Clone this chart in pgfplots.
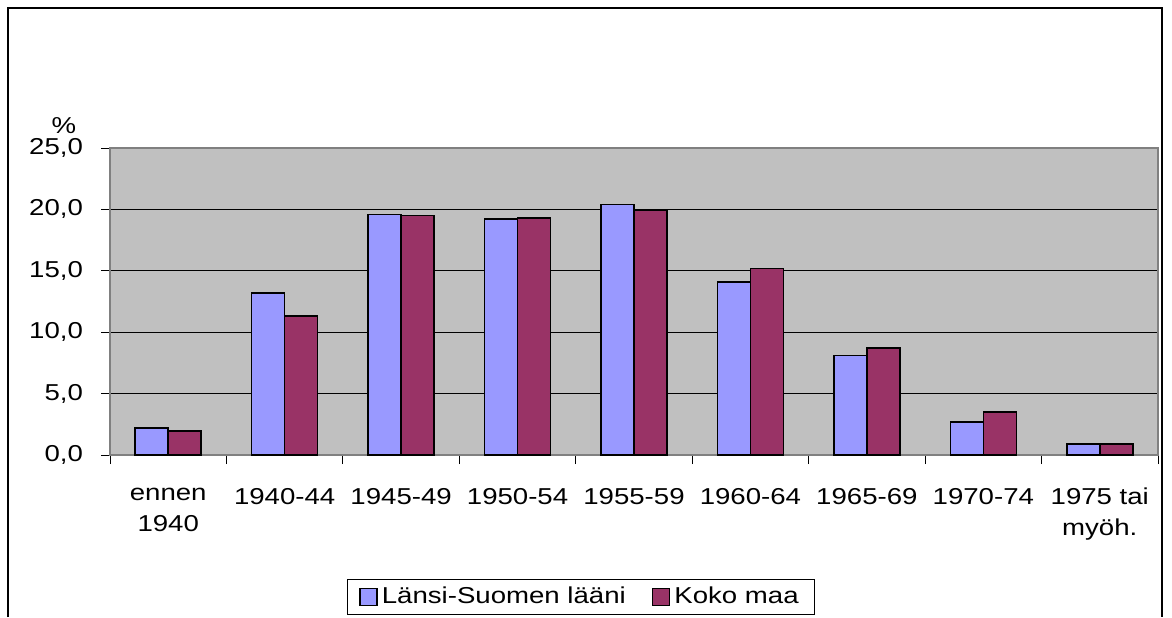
\documentclass[border=0pt]{standalone}
\usepackage{pgfplots}
\pgfplotsset{compat=1.18}
\usepackage{fontspec}
\setmainfont{Liberation Sans}[FakeStretch=1.2]
\definecolor{barblue}{HTML}{9999FF}
\definecolor{barred}{HTML}{993366}
\definecolor{plotgray}{HTML}{C0C0C0}
\begin{document}
\begin{tikzpicture}[x=0.5pt,y=0.5pt]
\useasboundingbox (0,0) rectangle (1172,617);
\draw[line width=0.8pt] (8,0) -- (8,609) -- (1162,609) -- (1162,0);
\node[font=\fontsize{11.5}{13}\selectfont] at (64,491) {\%};
\begin{axis}[
  at={(55pt,81pt)}, anchor=south west,
  scale only axis, width=524pt, height=153.5pt,
  ybar=0pt, bar width=16.5pt,
  xmin=-0.5, xmax=8.5, ymin=0, ymax=25,
  axis background/.style={fill=plotgray},
  axis line style={draw=gray, line width=0.6pt},
  ytick={0,5,...,25},
  ymajorgrids, grid style={black, line width=0.5pt},
  xtick={0,...,8},
  xticklabels={{ennen\\1940},1940-44,1945-49,1950-54,1955-59,1960-64,1965-69,1970-74,{1975 tai\\myöh.}},
  minor xtick={-0.5,0.5,...,8.5},
  xtick pos=bottom, ytick pos=left,
  major x tick style={draw=none},
  minor x tick style={black, line width=0.5pt},
  y tick style={black, line width=0.5pt},
  tick align=outside,
  major tick length=4.5pt, minor tick length=4.5pt,
  xticklabel style={align=center, font=\fontsize{11.5}{15.5}\selectfont, yshift=-8.5pt},
  yticklabel style={font=\fontsize{11.5}{13}\selectfont, xshift=-5.5pt},
  /pgf/number format/assume math mode=true,
  yticklabel={\pgfmathprintnumber[fixed, fixed zerofill, precision=1, use comma]{\tick}},
  legend columns=2,
  legend style={at={(0.4494,-0.4625)}, anchor=center, draw=black, fill=white,
    font=\fontsize{11.5}{13}\selectfont, line width=0.5pt, inner xsep=6pt,
    /tikz/every even column/.append style={column sep=11pt}},
  legend image code/.code={\draw[#1, line width=0.8pt] (0pt,-4.2pt) rectangle (8.5pt,4.2pt);},
]
\addplot[fill=barblue, draw=black, line width=0.8pt] coordinates {(0,2.2) (1,13.2) (2,19.6) (3,19.2) (4,20.4) (5,14.1) (6,8.1) (7,2.7) (8,0.9)};
\addplot[fill=barred, draw=black, line width=0.8pt] coordinates {(0,1.95) (1,11.3) (2,19.5) (3,19.3) (4,19.9) (5,15.2) (6,8.7) (7,3.5) (8,0.9)};
\legend{Länsi-Suomen lääni, Koko maa}
\end{axis}
\end{tikzpicture}
\end{document}
